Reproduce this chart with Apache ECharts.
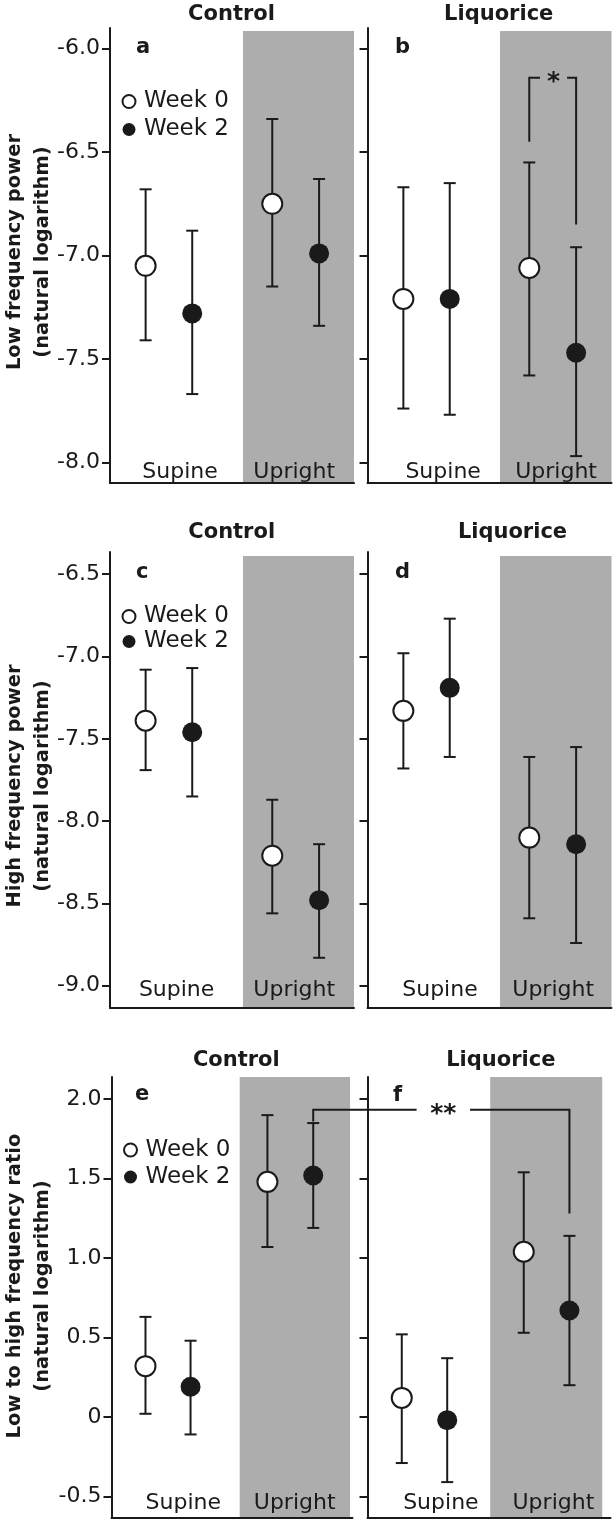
<!DOCTYPE html>
<html><head><meta charset="utf-8">
<script src="https://cdn.jsdelivr.net/npm/echarts@6/dist/echarts.min.js"></script>
<style>html,body{margin:0;padding:0;background:#fff}#c{width:615px;height:1533px}</style>
</head><body><div id="c"></div>
<script>
// ---------- DATA ----------
const categories = ['Supine', 'Upright'];
const groups = ['Control', 'Liquorice'];
const panelLetters = ['a', 'b', 'c', 'd', 'e', 'f'];
const seriesNames = ['Week 0', 'Week 2'];
const yAxisTitles = [
  'Low frequency power\n(natural logarithm)',
  'High frequency power\n(natural logarithm)',
  'Low to high frequency ratio\n(natural logarithm)'
];
const lfTicks = [-8.0, -7.5, -7.0, -6.5, -6.0];
const hfTicks = [-9.0, -8.5, -8.0, -7.5, -7.0, -6.5];
const ratioTicks = [-0.5, 0, 0.5, 1.0, 1.5, 2.0];

// each entry: [mean, lower, upper] for Supine, Upright
const lfControlWeek0 = [[-7.05, -7.41, -6.68], [-6.75, -7.15, -6.34]];
const lfControlWeek2 = [[-7.28, -7.67, -6.88], [-6.99, -7.34, -6.63]];
const lfLiquoriceWeek0 = [[-7.21, -7.74, -6.67], [-7.06, -7.58, -6.55]];
const lfLiquoriceWeek2 = [[-7.21, -7.77, -6.65], [-7.47, -7.97, -6.96]];

const hfControlWeek0 = [[-7.39, -7.69, -7.08], [-8.21, -8.56, -7.87]];
const hfControlWeek2 = [[-7.46, -7.85, -7.07], [-8.48, -8.83, -8.14]];
const hfLiquoriceWeek0 = [[-7.33, -7.68, -6.98], [-8.10, -8.59, -7.61]];
const hfLiquoriceWeek2 = [[-7.19, -7.61, -6.77], [-8.14, -8.74, -7.55]];

const ratioControlWeek0 = [[0.32, 0.02, 0.63], [1.48, 1.07, 1.90]];
const ratioControlWeek2 = [[0.19, -0.11, 0.48], [1.52, 1.19, 1.85]];
const ratioLiquoriceWeek0 = [[0.12, -0.29, 0.52], [1.04, 0.53, 1.54]];
const ratioLiquoriceWeek2 = [[-0.02, -0.41, 0.37], [0.67, 0.20, 1.14]];

// significance annotations
const sigLabels = ['*', '**'];

// ---------- LAYOUT ----------
const INK = '#1a1a1a';
const GREY = '#adadad';
const FONT = '"DejaVu Sans", sans-serif';

const panels = [
  { grid: { left: 110, top: 28, width: 244, height: 455 }, y: [-8.1, -5.9], ticks: lfTicks, showLabels: true,
    xPos: [14.6, 33.7, 66.5, 85.7], grey: [54.5, 100, -5.915], cat: [28.7, 75.5], catMargin: 0,
    data: [lfControlWeek0, lfControlWeek2] },
  { grid: { left: 367.5, top: 28, width: 244, height: 455 }, y: [-8.1, -5.9], ticks: lfTicks, showLabels: false,
    xPos: [14.7, 33.7, 66.3, 85.5], grey: [54.3, 100, -5.915], cat: [31, 77.3], catMargin: 0,
    data: [lfLiquoriceWeek0, lfLiquoriceWeek2] },
  { grid: { left: 110, top: 552, width: 244, height: 456 }, y: [-9.135, -6.365], ticks: hfTicks, showLabels: true,
    xPos: [14.6, 33.7, 66.5, 85.7], grey: [54.5, 100, -6.39], cat: [27.3, 75.5], catMargin: 7,
    data: [hfControlWeek0, hfControlWeek2] },
  { grid: { left: 367.5, top: 552, width: 244, height: 456 }, y: [-9.135, -6.365], ticks: hfTicks, showLabels: false,
    xPos: [14.7, 33.7, 66.3, 85.5], grey: [54.3, 100, -6.39], cat: [29.7, 76.1], catMargin: 7,
    data: [hfLiquoriceWeek0, hfLiquoriceWeek2] },
  { grid: { left: 111.5, top: 1077, width: 241, height: 441 }, y: [-0.636, 2.14], ticks: ratioTicks, showLabels: true,
    xPos: [14.1, 32.8, 64.7, 83.7], grey: [53.2, 99.0, 2.145], cat: [29.8, 76], catMargin: 4,
    data: [ratioControlWeek0, ratioControlWeek2] },
  { grid: { left: 367.5, top: 1077, width: 243, height: 441 }, y: [-0.636, 2.14], ticks: ratioTicks, showLabels: false,
    xPos: [14.1, 32.8, 64.3, 83.1], grey: [50.5, 96.6, 2.145], cat: [30.2, 76.5], catMargin: 4,
    data: [ratioLiquoriceWeek0, ratioLiquoriceWeek2] }
];

const titlePos = [[231.5, 15], [498.7, 15], [231.7, 533], [512.5, 533], [236.3, 1061], [500.8, 1061]];
const letterPos = [[136, 48], [395, 48], [136, 573], [395, 573], [135, 1095], [393, 1096]];
const yTitlePos = [[28.5, 252], [28.5, 786], [28.5, 1286]];
const legendLayout = [
  { left: 116.5, top: 85, itemGap: 5 },
  { left: 116.5, top: 600, itemGap: 2 },
  { left: 118, top: 1133.5, itemGap: 4 }
];

function fmt(v) { return v === 0 ? '0' : v.toFixed(1); }

const grids = [], xAxes = [], yAxes = [], series = [];
panels.forEach((p, i) => {
  grids.push(Object.assign({ containLabel: false }, p.grid));
  xAxes.push({
    type: 'value', gridIndex: i, min: 0, max: 100, z: 10,
    splitLine: { show: false }, axisTick: { show: false },
    axisLine: { show: true, onZero: false, lineStyle: { color: INK, width: 2 } },
    axisLabel: {
      show: true, inside: true, margin: p.catMargin, customValues: p.cat,
      formatter: v => categories[p.cat.indexOf(v)],
      fontFamily: FONT, fontSize: 22, color: INK
    }
  });
  yAxes.push({
    type: 'value', gridIndex: i, min: p.y[0], max: p.y[1], z: 10,
    splitLine: { show: false },
    axisLine: { show: true, onZero: false, lineStyle: { color: INK, width: 2 } },
    axisTick: { show: true, length: 8, customValues: p.ticks, lineStyle: { color: INK, width: 2 } },
    axisLabel: { show: p.showLabels, customValues: p.ticks, formatter: fmt, margin: 10,
      fontFamily: FONT, fontSize: 22, color: INK }
  });
  // grey band for upright
  series.push({
    type: 'line', xAxisIndex: i, yAxisIndex: i, data: [], z: 1, silent: true,
    markArea: { silent: true, itemStyle: { color: GREY, opacity: 1 },
      data: [[{ xAxis: p.grey[0], yAxis: p.y[0] }, { xAxis: p.grey[1], yAxis: p.grey[2] }]] }
  });
  // error bars
  const errData = [];
  p.data.forEach((wk, w) => wk.forEach((d, c) => errData.push([p.xPos[c * 2 + w], d[1], d[2]])));
  series.push({
    type: 'custom', name: 'err', xAxisIndex: i, yAxisIndex: i, z: 2, silent: true,
    data: errData,
    renderItem: (params, api) => {
      const x = api.value(0);
      const lo = api.coord([x, api.value(1)]);
      const hi = api.coord([x, api.value(2)]);
      const hw = 6;
      const st = { stroke: INK, lineWidth: 2 };
      return { type: 'group', children: [
        { type: 'line', shape: { x1: lo[0], y1: lo[1], x2: hi[0], y2: hi[1] }, style: st },
        { type: 'line', shape: { x1: lo[0] - hw, y1: lo[1], x2: lo[0] + hw, y2: lo[1] }, style: st },
        { type: 'line', shape: { x1: hi[0] - hw, y1: hi[1], x2: hi[0] + hw, y2: hi[1] }, style: st }
      ] };
    }
  });
  p.data.forEach((wk, w) => {
    series.push({
      type: 'scatter', name: seriesNames[w], xAxisIndex: i, yAxisIndex: i, z: 3,
      symbol: 'circle', symbolSize: 20,
      itemStyle: w === 0 ? { color: '#ffffff', borderColor: INK, borderWidth: 2, opacity: 1 }
                         : { color: INK, borderColor: INK, borderWidth: 0, opacity: 1 },
      data: wk.map((d, c) => [p.xPos[c * 2 + w], d[0]])
    });
  });
});

const legends = legendLayout.map(l => ({
  data: seriesNames, orient: 'vertical', left: l.left, top: l.top, itemGap: l.itemGap,
  itemWidth: 20, itemHeight: 13, icon: 'circle', selectedMode: false,
  textStyle: { fontFamily: FONT, fontSize: 23, color: INK }
}));

const staticGraphics = [];
titlePos.forEach((tp, i) => staticGraphics.push({
  type: 'text', x: tp[0], y: tp[1], silent: true, z: 100,
  style: { text: groups[i % 2], font: 'bold 21px ' + FONT, fill: INK, align: 'center', verticalAlign: 'middle' }
}));
letterPos.forEach((lp, i) => staticGraphics.push({
  type: 'text', x: lp[0], y: lp[1], silent: true, z: 100,
  style: { text: panelLetters[i], font: 'bold 21px ' + FONT, fill: INK, align: 'left', verticalAlign: 'middle' }
}));
yTitlePos.forEach((yp, i) => staticGraphics.push({
  type: 'text', x: yp[0], y: yp[1], rotation: Math.PI / 2, silent: true, z: 100,
  style: { text: yAxisTitles[i], font: 'bold 19.5px ' + FONT, fill: INK, align: 'center', verticalAlign: 'middle', lineHeight: 28 }
}));

const chart = echarts.init(document.getElementById('c'), null, { renderer: 'canvas' });
chart.setOption({
  animation: false,
  backgroundColor: '#ffffff',
  grid: grids, xAxis: xAxes, yAxis: yAxes, legend: legends, series: series,
  graphic: staticGraphics
});

// ---------- significance brackets (positions from the axes' scales) ----------
const px = (g, x, y) => chart.convertToPixel({ gridIndex: g }, [x, y]);
const lineStyle = { stroke: INK, lineWidth: 2, fill: null };
const ann = [];
// panel b: Upright week 0 vs week 2
{
  const p = panels[1];
  const x0 = p.xPos[2], x1 = p.xPos[3];
  const top = -6.14, endL = -6.45, endR = -6.85, br = [70.7, 81.8];
  ann.push({ type: 'polyline', silent: true, z: 100, shape: { points: [px(1, x0, endL), px(1, x0, top), px(1, br[0], top)] }, style: lineStyle });
  ann.push({ type: 'polyline', silent: true, z: 100, shape: { points: [px(1, br[1], top), px(1, x1, top), px(1, x1, endR)] }, style: lineStyle });
  const m = px(1, (br[0] + br[1]) / 2, top);
  ann.push({ type: 'text', x: m[0], y: m[1] + 5, silent: true, z: 100,
    style: { text: sigLabels[0], font: 'bold 25px ' + FONT, fill: INK, align: 'center', verticalAlign: 'middle' } });
}
// panels e-f: Upright week 2 control vs liquorice
{
  const top = 1.934, endL = 1.86, endR = 1.28, br = [20.2, 42.2];
  const pL = px(4, panels[4].xPos[3], endL), pLt = px(4, panels[4].xPos[3], top);
  ann.push({ type: 'polyline', silent: true, z: 100, shape: { points: [pL, pLt, px(5, br[0], top)] }, style: lineStyle });
  ann.push({ type: 'polyline', silent: true, z: 100, shape: { points: [px(5, br[1], top), px(5, panels[5].xPos[3], top), px(5, panels[5].xPos[3], endR)] }, style: lineStyle });
  const m = px(5, (br[0] + br[1]) / 2, top);
  ann.push({ type: 'text', x: m[0], y: m[1] + 5, silent: true, z: 100,
    style: { text: sigLabels[1], font: 'bold 25px ' + FONT, fill: INK, align: 'center', verticalAlign: 'middle' } });
}
chart.setOption({ graphic: staticGraphics.concat(ann) });
</script>
</body></html>
